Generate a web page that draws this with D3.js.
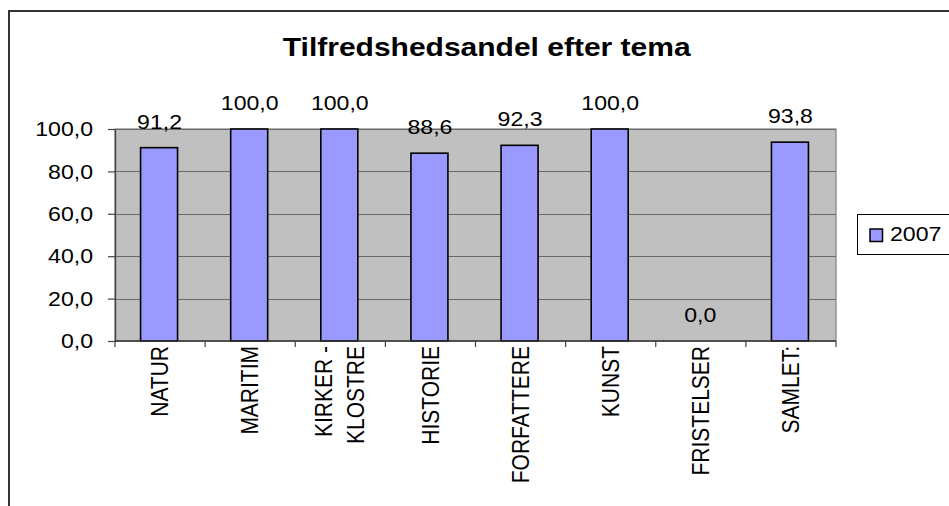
<!DOCTYPE html>
<html>
<head>
<meta charset="utf-8">
<script src="https://cdn.jsdelivr.net/npm/d3@7"></script>
<style>
  html, body { margin: 0; padding: 0; background: #fff; }
  svg { display: block; font-family: "Liberation Sans", Arial, sans-serif; }
</style>
</head>
<body>
<script>
const categories = ["NATUR", "MARITIM", "KIRKER -\nKLOSTRE", "HISTORIE", "FORFATTERE", "KUNST", "FRISTELSER", "SAMLET:"];
const values2007 = [91.2, 100.0, 100.0, 88.6, 92.3, 100.0, 0.0, 93.8];
const yTicks = [0, 20, 40, 60, 80, 100];
const seriesName = "2007";
const titleText = "Tilfredshedsandel efter tema";

const W = 949, H = 506;
const plot = { left: 115, right: 836, top: 129, bottom: 341 };
const SX = 1.1; // horizontal text stretch of the reference

const fmt = v => d3.format(".1f")(v).replace(".", ",");

const svg = d3.select("body").append("svg").attr("width", W).attr("height", H);

// outer chart border
svg.append("rect").attr("x", 9).attr("y", 11).attr("width", 1200).attr("height", 1200)
  .attr("fill", "#fff").attr("stroke", "#333").attr("stroke-width", 2);

const x = d3.scaleBand().domain(categories).range([plot.left, plot.right]).padding(0);
const y = d3.scaleLinear().domain([0, 100]).range([plot.bottom, plot.top]);

// plot background
svg.append("rect").attr("x", plot.left).attr("y", plot.top)
  .attr("width", plot.right - plot.left).attr("height", plot.bottom - plot.top)
  .attr("fill", "#c0c0c0").attr("stroke", "#808080").attr("stroke-width", 1.2);

// gridlines
svg.append("g").selectAll("line").data(yTicks.filter(t => t > 0)).join("line")
  .attr("x1", plot.left).attr("x2", plot.right)
  .attr("y1", d => Math.round(y(d)) + 0.5).attr("y2", d => Math.round(y(d)) + 0.5)
  .attr("stroke", "#6a6a6a").attr("stroke-width", 1);

// bars
const barW = 37;
svg.append("g").selectAll("rect").data(values2007).join("rect")
  .attr("x", (d, i) => x(categories[i]) + (x.bandwidth() - barW) / 2 - 1)
  .attr("y", d => y(d))
  .attr("width", barW)
  .attr("height", d => y(0) - y(d))
  .attr("fill", "#9999ff").attr("stroke", "#000").attr("stroke-width", 1.6);

// value labels
svg.append("g").selectAll("text").data(values2007).join("text")
  .attr("transform", (d, i) => `translate(${x(categories[i]) + x.bandwidth() / 2 - 0.5},${y(d) - 19}) scale(${SX},1)`)
  .attr("text-anchor", "middle").attr("font-size", 21).attr("fill", "#000")
  .text(d => fmt(d));

// y axis
const yAxis = svg.append("g").attr("transform", `translate(${plot.left},0)`)
  .call(d3.axisLeft(y).tickValues(yTicks).tickFormat(fmt).tickSize(7).tickSizeOuter(0).tickPadding(15));
yAxis.select(".domain").attr("stroke", "#444").attr("stroke-width", 1.4);
yAxis.selectAll(".tick line").attr("stroke", "#444").attr("stroke-width", 1.2);
yAxis.selectAll(".tick text")
  .attr("font-size", 21).attr("font-family", "Liberation Sans, Arial, sans-serif").attr("fill", "#000")
  .attr("x", -22 / SX).attr("transform", `scale(${SX},1)`);

// x axis line and boundary ticks
const xg = svg.append("g");
xg.append("line").attr("x1", plot.left).attr("x2", plot.right)
  .attr("y1", plot.bottom).attr("y2", plot.bottom).attr("stroke", "#333").attr("stroke-width", 1.6);
const bounds = categories.map(c => x(c)).concat([plot.right]);
xg.selectAll("line.tk").data(bounds).join("line").attr("class", "tk")
  .attr("x1", d => d).attr("x2", d => d)
  .attr("y1", plot.bottom).attr("y2", plot.bottom + 6)
  .attr("stroke", "#444").attr("stroke-width", 1.2);

// x labels (rotated)
const lab = xg.selectAll("text").data(categories).join("text")
  .attr("transform", c => `translate(${x(c) + x.bandwidth() / 2},${plot.bottom + 5}) scale(${SX},1) rotate(-90)`)
  .attr("text-anchor", "end").attr("font-size", 21).attr("fill", "#000");
lab.each(function(c) {
  const lines = c.split("\n");
  const t = d3.select(this);
  const gap = 29;
  lines.forEach((ln, k) => {
    const off = (k - (lines.length - 1) / 2) * gap;
    t.append("tspan").attr("x", 0).attr("y", off).attr("dy", "0.35em").text(ln);
  });
});

// title
svg.append("text")
  .attr("transform", `translate(486.7,56) scale(1.2,1)`)
  .attr("text-anchor", "middle").attr("font-size", 25).attr("font-weight", "bold").attr("fill", "#000")
  .text(titleText);

// legend
const lg = svg.append("g");
lg.append("rect").attr("x", 857.5).attr("y", 214.5).attr("width", 120).attr("height", 40)
  .attr("fill", "#fff").attr("stroke", "#000").attr("stroke-width", 1);
lg.append("rect").attr("x", 870).attr("y", 229).attr("width", 12.5).attr("height", 12.5)
  .attr("fill", "#9999ff").attr("stroke", "#000").attr("stroke-width", 1.5);
lg.append("text").attr("transform", `translate(890,241) scale(${SX},1)`)
  .attr("font-size", 21).attr("fill", "#000").text(seriesName);
</script>
</body>
</html>
